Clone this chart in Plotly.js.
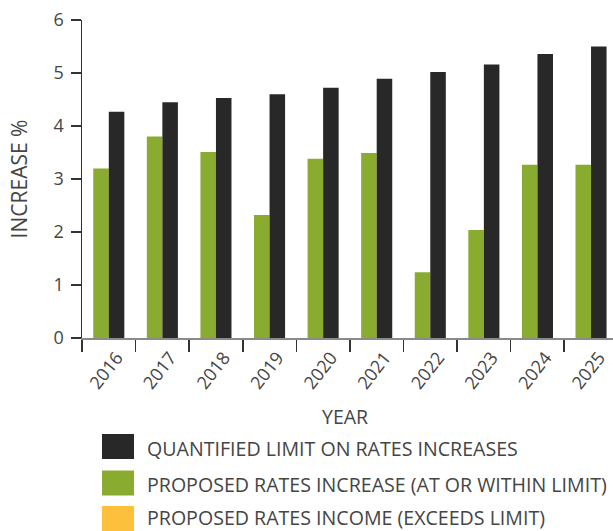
<!DOCTYPE html>
<html>
<head>
<meta charset="utf-8">
<script src="https://cdn.plot.ly/plotly-3.0.1.min.js"></script>
<style>
  html, body { margin: 0; padding: 0; background: #ffffff; overflow: hidden; }
  #chart { width: 613px; height: 531px; }
</style>
</head>
<body>
<div id="chart"></div>
<script>
// Rates increase by year (%)
const years = ['2016', '2017', '2018', '2019', '2020', '2021', '2022', '2023', '2024', '2025'];
const proposedIncrease = [3.2, 3.8, 3.51, 2.32, 3.38, 3.49, 1.24, 2.04, 3.27, 3.27];
const quantifiedLimit = [4.27, 4.45, 4.53, 4.6, 4.72, 4.89, 5.02, 5.16, 5.36, 5.5];

const legendLabels = [
  'QUANTIFIED LIMIT ON RATES INCREASES',
  'PROPOSED RATES INCREASE (AT OR WITHIN LIMIT)',
  'PROPOSED RATES INCOME (EXCEEDS LIMIT)'
];

const GREEN = '#89ab2f';
const BLACK = '#282828';
const YELLOW = '#fdc03c';
const TEXT = '#454545';
const FONT = 'Open Sans, sans-serif';

const W = 613, H = 531;
const M = { l: 82, r: 0, t: 20, b: 193 };
const plotW = W - M.l - M.r;
const plotH = H - M.t - M.b;
// pixel position -> paper coordinates
const px = x => (x - M.l) / plotW;
const py = y => (H - M.b - y) / plotH;

const traces = [
  {
    type: 'bar', x: years, y: proposedIncrease, name: legendLabels[1],
    marker: { color: GREEN }, showlegend: false
  },
  {
    type: 'bar', x: years, y: quantifiedLimit, name: legendLabels[0],
    marker: { color: BLACK }, showlegend: false
  }
];

// Legend: swatches and labels
const legendColors = [BLACK, GREEN, YELLOW];
const rowTop = [434, 470.5, 506];
const shapes = [];
const annotations = [];
legendColors.forEach((c, i) => {
  shapes.push({
    type: 'rect', xref: 'paper', yref: 'paper',
    x0: px(102), x1: px(134), y0: py(rowTop[i]), y1: py(rowTop[i] + 25),
    fillcolor: c, line: { width: 0 }, layer: 'above'
  });
  annotations.push({
    xref: 'paper', yref: 'paper', x: px(145), y: py(Math.min(rowTop[i] + 14, 517)),
    xanchor: 'left', yanchor: 'middle', showarrow: false,
    text: legendLabels[i], font: { family: FONT, size: 19.6, color: TEXT }
  });
});

annotations.push({
  xref: 'paper', yref: 'paper', x: px(344.5), y: py(416),
  xanchor: 'center', yanchor: 'middle', showarrow: false,
  text: 'YEAR', font: { family: FONT, size: 19.5, color: TEXT }
});

const layout = {
  width: W, height: H,
  margin: M,
  paper_bgcolor: '#ffffff', plot_bgcolor: '#ffffff',
  font: { family: FONT, size: 18, color: TEXT },
  showlegend: false,
  barmode: 'group', bargap: 0.42, bargroupgap: 0,
  xaxis: {
    type: 'category', range: [-0.5, 9.41],
    showgrid: false, zeroline: false,
    showline: true, linecolor: '#8a8a8a', linewidth: 2,
    ticks: 'outside', tickson: 'boundaries', ticklen: 12, tickwidth: 1.5, tickcolor: '#333333',
    tickangle: -52, ticklabelshift: 8,
    tickfont: { family: FONT, size: 18, color: TEXT }
  },
  yaxis: {
    range: [0, 6], tickvals: [0, 1, 2, 3, 4, 5, 6],
    showgrid: false, zeroline: false,
    showline: true, linecolor: '#333333', linewidth: 1.5,
    ticks: 'outside', ticklen: 10, tickwidth: 1.5, tickcolor: '#333333',
    ticklabelstandoff: 3,
    tickfont: { family: FONT, size: 18, color: TEXT },
    title: { text: 'INCREASE %', standoff: 20, font: { family: FONT, size: 21, color: TEXT } }
  },
  shapes: shapes,
  annotations: annotations
};

Plotly.newPlot('chart', traces, layout, { staticPlot: true, displayModeBar: false });
</script>
</body>
</html>
